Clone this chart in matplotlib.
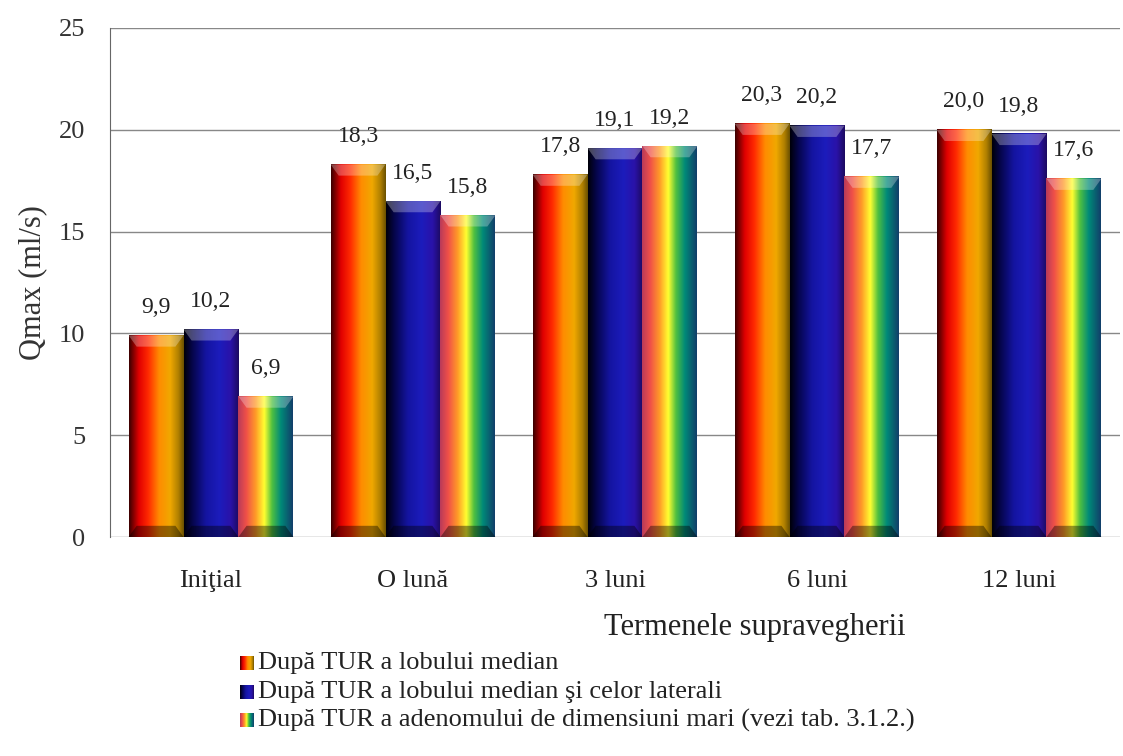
import numpy as np
import matplotlib
matplotlib.use("Agg")
import matplotlib.pyplot as plt
from matplotlib.colors import LinearSegmentedColormap
from matplotlib.patches import Polygon

plt.rcParams['font.family'] = ['Liberation Serif', 'DejaVu Serif']

categories = ["Iniţial", "O lună", "3 luni", "6 luni", "12 luni"]
series_names = [
    "După TUR a lobului median",
    "După TUR a lobului median şi celor laterali",
    "După TUR a adenomului de dimensiuni mari (vezi tab. 3.1.2.)",
]
median_lobe = [9.9, 18.3, 17.8, 20.3, 20.0]
median_lateral = [10.2, 16.5, 19.1, 20.2, 19.8]
large_adenoma = [6.9, 15.8, 19.2, 17.7, 17.6]
values = [median_lobe, median_lateral, large_adenoma]
yticks = [0, 5, 10, 15, 20, 25]

# horizontal gradients used to shade each series
cmaps = [
    LinearSegmentedColormap.from_list("fire", [
        (0.0, "#3a0000"), (0.18, "#e00000"), (0.35, "#ff2a00"),
        (0.55, "#ff8c00"), (0.75, "#f0a800"), (0.9, "#b08000"), (1.0, "#6a5000")]),
    LinearSegmentedColormap.from_list("navy", [
        (0.0, "#000008"), (0.15, "#05054a"), (0.4, "#1414a0"),
        (0.65, "#1c1cbc"), (0.85, "#2a12a8"), (1.0, "#1c0a60")]),
    LinearSegmentedColormap.from_list("spectrum", [
        (0.0, "#b83a5a"), (0.15, "#f05048"), (0.32, "#ff9a28"),
        (0.48, "#ffff30"), (0.62, "#50c040"), (0.78, "#008a78"), (1.0, "#123e6a")]),
]

W, H = 1123, 756
fig = plt.figure(figsize=(W / 100, H / 100), dpi=100)
ax = fig.add_axes([110 / W, 1 - 537 / H, 1010 / W, 509 / H])

bar_w = 0.272
grad = np.linspace(0, 1, 256).reshape(1, -1)
x = np.arange(len(categories))
bev_x = 0.04
bev_y = 0.55

for s, vals in enumerate(values):
    for i, v in enumerate(vals):
        x0 = x[i] + (s - 1) * bar_w - bar_w / 2
        x1 = x0 + bar_w
        ax.imshow(grad, cmap=cmaps[s], extent=(x0, x1, 0, v), aspect='auto',
                  interpolation='bilinear', zorder=2)
        # bevelled top face
        ax.add_patch(Polygon([(x0, v), (x1, v), (x1 - bev_x, v - bev_y), (x0 + bev_x, v - bev_y)],
                             closed=True, facecolor="white", alpha=0.28, edgecolor="none", zorder=3))
        # darker base band
        ax.add_patch(Polygon([(x0, 0), (x1, 0), (x1 - bev_x, bev_y), (x0 + bev_x, bev_y)],
                             closed=True, facecolor="black", alpha=0.4, edgecolor="none", zorder=3))
        ax.text((x0 + x1) / 2, v + 0.85, f"{v:.1f}".replace(".", ","),
                ha='center', va='bottom', fontsize=17, color="#222222", zorder=4)

ax.set_xlim(-0.5, len(categories) - 0.5)
ax.set_ylim(0, 25)
ax.set_yticks(yticks)
ax.set_yticklabels([str(t) for t in yticks], fontsize=19, color="#333333")
ax.set_xticks(x)
ax.set_xticklabels(categories, fontsize=19, color="#222222")
ax.tick_params(axis='y', length=0, pad=18)
ax.tick_params(axis='x', length=0, pad=24)
ax.grid(axis='y', color="#888888", linewidth=1.0, zorder=0)
ax.set_axisbelow(True)
for side in ("top", "right", "bottom"):
    ax.spines[side].set_visible(False)
ax.spines["left"].set_color("#666666")
ax.set_ylabel("Qmax (ml/s)", fontsize=22, color="#333333", labelpad=8)

fig.text(755 / W, 1 - 627 / H, "Termenele supravegherii", ha='center', va='center',
         fontsize=22, color="#222222")

# legend with gradient swatches
leg_y = [663, 692, 720]
for s, (name, yy) in enumerate(zip(series_names, leg_y)):
    sw = fig.add_axes([240 / W, 1 - (yy + 7) / H, 14 / W, 14 / H])
    sw.imshow(grad, cmap=cmaps[s], aspect='auto', interpolation='bilinear')
    sw.set_axis_off()
    fig.text(258 / W, 1 - yy / H, name, ha='left', va='center', fontsize=19, color="#222222")

fig.savefig("out.png", dpi=100, facecolor="white")
